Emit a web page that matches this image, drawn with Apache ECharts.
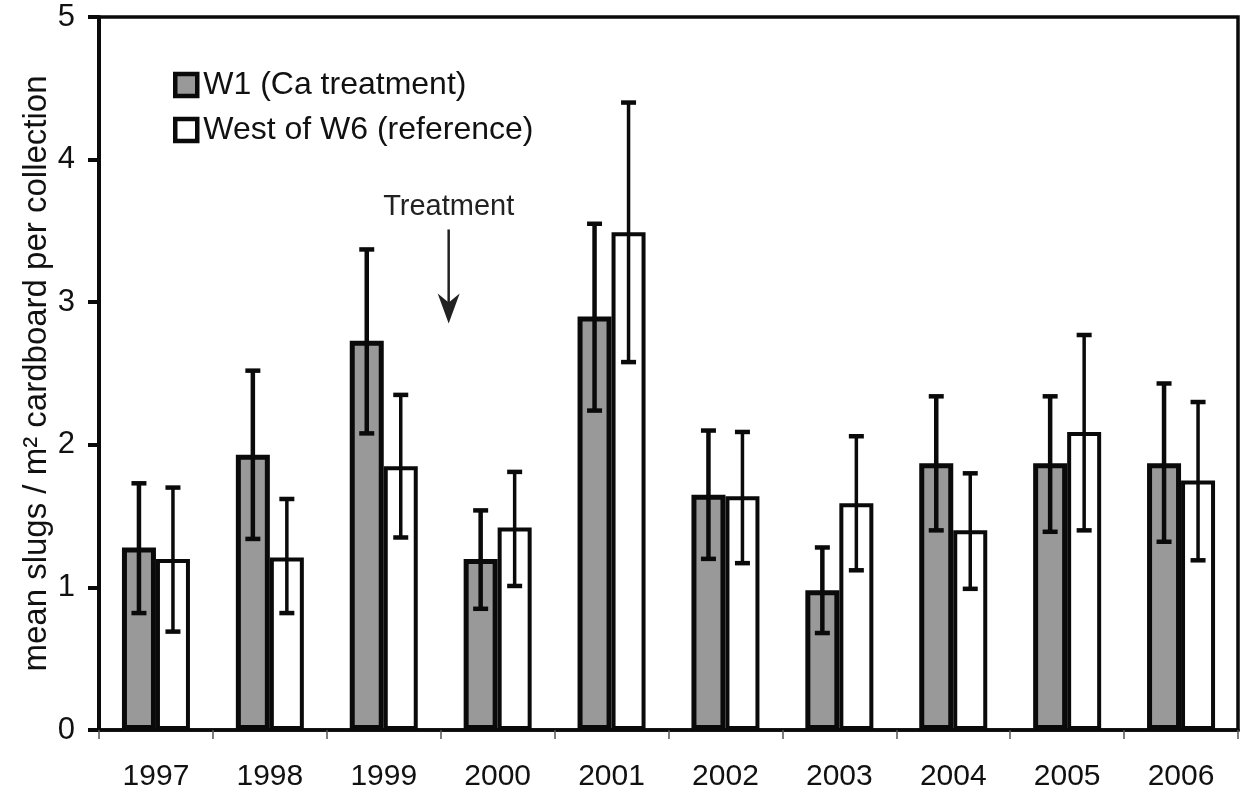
<!DOCTYPE html>
<html>
<head>
<meta charset="utf-8">
<script src="https://cdn.jsdelivr.net/npm/echarts@6/dist/echarts.min.js"></script>
<style>
  html, body { margin: 0; padding: 0; background: #fff; }
  #chart { width: 1244px; height: 803px; }
</style>
</head>
<body>
<div id="chart"></div>
<script>
const years = ['1997', '1998', '1999', '2000', '2001', '2002', '2003', '2004', '2005', '2006']

// W1 (Ca treatment)
const w1Mean = [1.28, 1.93, 2.73, 1.20, 2.90, 1.65, 0.98, 1.87, 1.87, 1.87]
const w1Upper = [1.73, 2.52, 3.37, 1.54, 3.55, 2.10, 1.28, 2.34, 2.34, 2.43]
const w1Lower = [0.82, 1.34, 2.08, 0.85, 2.24, 1.20, 0.68, 1.40, 1.39, 1.32]

// West of W6 (reference)
const w6Mean = [1.20, 1.21, 1.85, 1.42, 3.49, 1.64, 1.59, 1.40, 2.09, 1.75]
const w6Upper = [1.70, 1.62, 2.35, 1.81, 4.40, 2.09, 2.06, 1.80, 2.77, 2.30]
const w6Lower = [0.69, 0.82, 1.35, 1.01, 2.58, 1.17, 1.12, 0.99, 1.40, 1.19]

const yTicks = [0, 1, 2, 3, 4, 5]

// treatment arrow, in data units (y) between 1999 and 2000
const treatmentLabelY = 3.67
const treatmentArrow = [3.51, 2.85]

const font = '"Liberation Sans", Arial, sans-serif'
const barWidth = 34

const errorBars = (side, lineWidth) => (params, api) => {
  const idx = api.value(0)
  const hi = api.coord([idx, api.value(1)])
  const lo = api.coord([idx, api.value(2)])
  const x = hi[0] + side * barWidth / 2
  const cap = 7.5
  const style = { stroke: '#0a0a0a', lineWidth: lineWidth }
  const capStyle = { stroke: '#0a0a0a', lineWidth: 4.5 }
  return {
    type: 'group',
    children: [
      { type: 'line', shape: { x1: x, y1: hi[1], x2: x, y2: lo[1] }, style: style },
      { type: 'line', shape: { x1: x - cap, y1: hi[1], x2: x + cap, y2: hi[1] }, style: capStyle },
      { type: 'line', shape: { x1: x - cap, y1: lo[1], x2: x + cap, y2: lo[1] }, style: capStyle }
    ]
  }
}

const chart = echarts.init(document.getElementById('chart'))

const option = {
  animation: false,
  textStyle: { fontFamily: font },
  grid: {
    left: 99,
    right: 6,
    top: 17,
    bottom: 73,
    show: true,
    borderColor: '#0a0a0a',
    borderWidth: 3.5,
    backgroundColor: 'transparent'
  },
  legend: {
    orient: 'vertical',
    left: 168,
    top: 64,
    itemWidth: 22,
    itemHeight: 22,
    itemGap: 13,
    icon: 'rect',
    textStyle: { fontSize: 32, color: '#111', fontFamily: font, padding: [0, 0, 0, 1] },
    data: [
      { name: 'W1 (Ca treatment)', itemStyle: { color: '#999999', borderColor: '#0a0a0a', borderWidth: 4.5 } },
      { name: 'West of W6 (reference)', itemStyle: { color: '#ffffff', borderColor: '#0a0a0a', borderWidth: 4.5 } }
    ]
  },
  xAxis: {
    type: 'category',
    data: years,
    axisLine: { lineStyle: { color: '#0a0a0a', width: 3.5 } },
    axisTick: { show: true, length: 9, lineStyle: { color: '#555', width: 1.5 } },
    axisLabel: { fontSize: 30, color: '#111', margin: 32, fontFamily: font },
    splitLine: { show: false }
  },
  yAxis: {
    type: 'value',
    min: yTicks[0],
    max: yTicks[yTicks.length - 1],
    interval: 1,
    name: 'mean slugs / m\u00b2 cardboard per collection',
    nameLocation: 'middle',
    nameGap: 46,
    nameMoveOverlap: false,
    nameTextStyle: { fontSize: 33, color: '#111', fontFamily: font },
    axisLine: { show: true, lineStyle: { color: '#0a0a0a', width: 4 } },
    axisTick: { show: true, length: 11, lineStyle: { color: '#0a0a0a', width: 4 } },
    axisLabel: { fontSize: 31, color: '#111', margin: 24, fontFamily: font },
    splitLine: { show: false }
  },
  series: [
    {
      name: 'W1 (Ca treatment)',
      type: 'bar',
      data: w1Mean,
      barWidth: barWidth,
      barGap: '0%',
      itemStyle: { color: '#999999', borderColor: '#0a0a0a', borderWidth: 5 },
      z: 2
    },
    {
      name: 'West of W6 (reference)',
      type: 'bar',
      data: w6Mean,
      barWidth: barWidth,
      barGap: '0%',
      itemStyle: { color: '#ffffff', borderColor: '#0a0a0a', borderWidth: 4 },
      z: 2
    },
    {
      type: 'custom',
      name: 'w1err',
      renderItem: errorBars(-1, 4.5),
      data: years.map((y, i) => [i, w1Upper[i], w1Lower[i]]),
      z: 5,
      silent: true
    },
    {
      type: 'custom',
      name: 'w6err',
      renderItem: errorBars(1, 3.5),
      data: years.map((y, i) => [i, w6Upper[i], w6Lower[i]]),
      z: 5,
      silent: true
    }
  ]
}

chart.setOption(option)

// treatment annotation placed from axis coordinates
const x1999 = chart.convertToPixel({ xAxisIndex: 0 }, '1999')
const x2000 = chart.convertToPixel({ xAxisIndex: 0 }, '2000')
const ax = (x1999 + x2000) / 2 + (x2000 - x1999) * 0.07
const labelY = chart.convertToPixel({ yAxisIndex: 0 }, treatmentLabelY)
const arrowTop = chart.convertToPixel({ yAxisIndex: 0 }, treatmentArrow[0])
const arrowTip = chart.convertToPixel({ yAxisIndex: 0 }, treatmentArrow[1])

chart.setOption({
  graphic: [
    {
      type: 'text',
      x: ax,
      y: labelY,
      style: {
        text: 'Treatment',
        fontSize: 29,
        fontFamily: font,
        fill: '#222',
        align: 'center',
        verticalAlign: 'middle'
      }
    },
    {
      type: 'line',
      shape: { x1: ax, y1: arrowTop, x2: ax, y2: arrowTip - 20 },
      style: { stroke: '#222', lineWidth: 2.5 }
    },
    {
      type: 'polygon',
      shape: {
        points: [[ax, arrowTip], [ax - 11, arrowTip - 30], [ax, arrowTip - 21], [ax + 11, arrowTip - 30]]
      },
      style: { fill: '#222' }
    }
  ]
})
</script>
</body>
</html>
